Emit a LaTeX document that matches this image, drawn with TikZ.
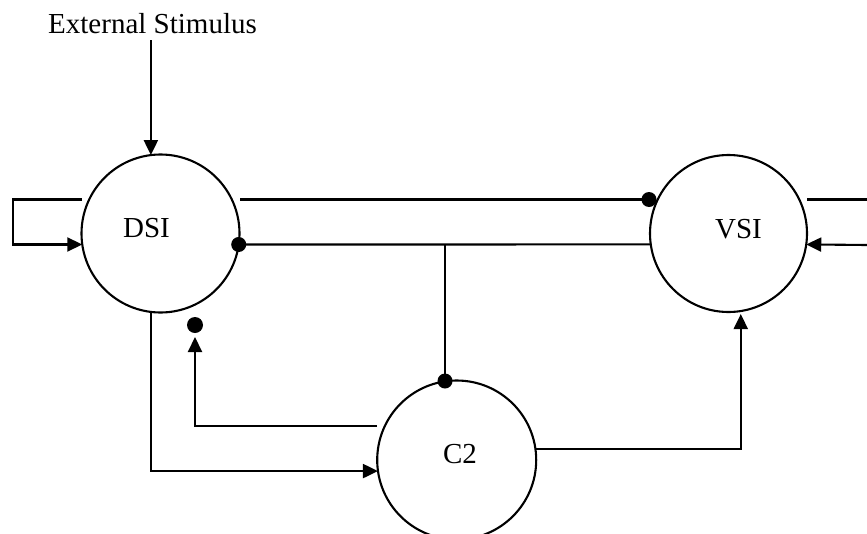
\documentclass[tikz,border=0pt]{standalone}
\usepackage{fontspec}
\setmainfont{Liberation Serif}
\usetikzlibrary{arrows.meta}
\begin{document}
\begin{tikzpicture}[x=1pt,y=-1pt,
  cell/.style={circle,draw,fill=white,line width=2.1pt,minimum size=158pt,inner sep=0pt,outer sep=0pt},
  lbl/.style={anchor=base,inner sep=0pt,font=\fontsize{29}{34}\selectfont},
  wire/.style={line width=2.1pt},
  arr/.style={wire,-{Triangle[length=15pt,width=14pt]}},
  blob/.style={circle,fill=black,inner sep=0pt,minimum size=15pt}]
\useasboundingbox (0,0) rectangle (867,533);

% neurons
\node[cell] (dsi) at (160.5,233.5) {};
\node[cell,minimum size=157pt] (vsi) at (728.5,233.5) {};
\node[cell,minimum size=159pt] (c2) at (456.7,460) {};

% labels
\node[lbl] (ext) at (152.5,33) {External Stimulus};
\node[lbl] (dsil) at (146.5,237) {DSI};
\node[lbl] (vsil) at (738.5,238) {VSI};
\node[lbl] (c2l) at (460,463) {C2};

% synapse points and free ends
\coordinate (d1) at (dsi.-8.4);
\coordinate (d2) at (649,199.5);
\coordinate (d3) at (445,381);
\coordinate (d4) at (195,325);
\coordinate (lt) at (82,199.5);
\coordinate (tl) at (240,199.5);
\coordinate (rt) at (807,199.5);
\coordinate (rr) at (867,199.5);
\coordinate (rin) at (867,245);
\coordinate (fb) at (377,426);

% stimulus
\draw[arr] ([yshift=-7pt]ext.south -| dsi.97.6) -- (dsi.97.6);

% DSI self loop
\draw[arr] (lt) -- ++(-69,0) |- (dsi.188.4);

% DSI <-> VSI
\draw[wire] (tl) -- (d2);
\draw[wire] (d1) -- (vsi.188.4);
\draw[wire] (d3 |- d1) -- (d3);

% VSI self loop ends
\draw[wire] (rt) -- (rr);
\draw[arr] (rin) -- (vsi.-8.4);

% DSI -> C2, C2 -> VSI, C2 -> DSI
\draw[arr] (dsi.-97.6) |- (c2.188.7);
\draw[arr,shorten >=3pt] (c2.8) -| (vsi.-81.6);
\draw[arr] (fb) -| ([yshift=-12pt]d4);

% synapse dots
\node[blob] at (d1) {};
\node[blob] at (d2) {};
\node[blob] at (d3) {};
\node[blob,minimum size=16pt] at (d4) {};
\end{tikzpicture}
\end{document}
